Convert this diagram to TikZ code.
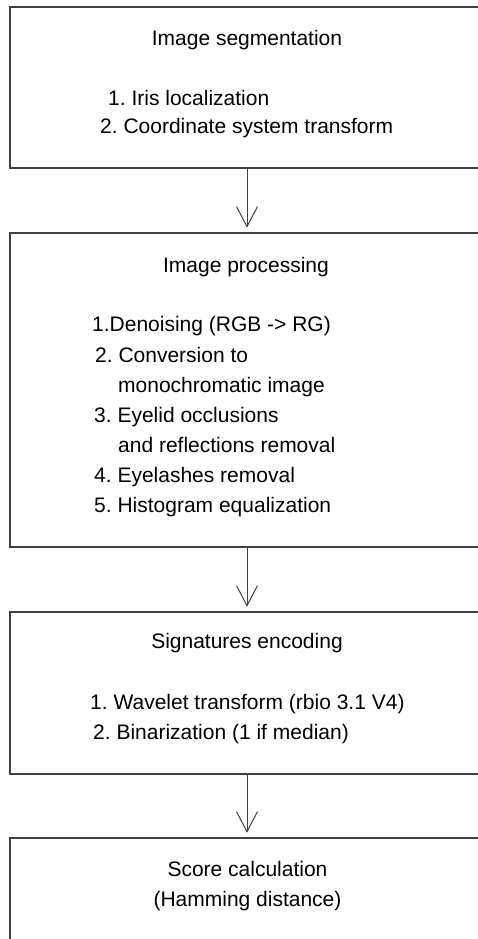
\documentclass[tikz,border=0pt]{standalone}
\usepackage{fontspec}
\setmainfont{Liberation Sans}
\usepackage{tikz}
\usetikzlibrary{arrows.meta, positioning}
\definecolor{boxgray}{RGB}{64, 64, 64}
\frenchspacing

\begin{document}
\begin{tikzpicture}[x=1pt, y=-1pt,
    stage/.style={draw=boxgray, line width=1.6pt, rectangle, minimum width=474pt,
                  inner sep=0pt},
    stagetitle/.style={font=\fontsize{21}{24}\selectfont, inner sep=0pt,
                       text height=15pt, text depth=4pt},
    stageitem/.style={stagetitle, anchor=west},
    flowarrow/.style={-{Straight Barb[length=20pt, width=21pt, line width=1pt]},
                      line width=1pt, boxgray, shorten >=4.5pt}]
    \useasboundingbox (0,0) rectangle (478,939);
    % boxes
    \node[stage, minimum height=161pt] (seg)   at (247, 87.5) {};
    \node[stage, minimum height=314pt] (proc)  at (247, 390)  {};
    \node[stage, minimum height=162pt] (enc)   at (247, 693)  {};
    \node[stage, minimum height=162pt] (score) at (247, 919)  {};
    % image segmentation
    \node[stagetitle] (segtitle) at (247, 40) {Image segmentation};
    \node[stageitem] (seg1) at (108, 100) {1. Iris localization};
    \node[stageitem] (seg2) at (100, 128) {2. Coordinate system transform};
    % image processing
    \node[stagetitle] (proctitle) at (246, 267) {Image processing};
    \node[stageitem] (proc1)  at (92, 326)  {1.Denoising (RGB -> RG)};
    \node[stageitem] (proc2)  at (95, 357)  {2. Conversion to};
    \node[stageitem] (proc2b) at (118, 387) {monochromatic image};
    \node[stageitem] (proc3)  at (94, 417)  {3. Eyelid occlusions};
    \node[stageitem] (proc3b) at (118, 447) {and reflections removal};
    \node[stageitem] (proc4)  at (94, 477)  {4. Eyelashes removal};
    \node[stageitem] (proc5)  at (94, 507)  {5. Histogram equalization};
    % signatures encoding
    \node[stagetitle] (enctitle) at (247, 643) {Signatures encoding};
    \node[stageitem] (enc1) at (90, 704) {1. Wavelet transform (rbio 3.1 V4)};
    \node[stageitem] (enc2) at (93, 734) {2. Binarization (1 if median)};
    % score calculation
    \node[stagetitle] (scoretitle) at (247.5, 871) {Score calculation};
    \node[stagetitle] (scoresub)   at (247.5, 901) {(Hamming distance)};
    % arrows
    \draw[flowarrow] (seg)  -- (proc);
    \draw[flowarrow] (proc) -- (enc);
    \draw[flowarrow] (enc)  -- (score);
\end{tikzpicture}
\end{document}
